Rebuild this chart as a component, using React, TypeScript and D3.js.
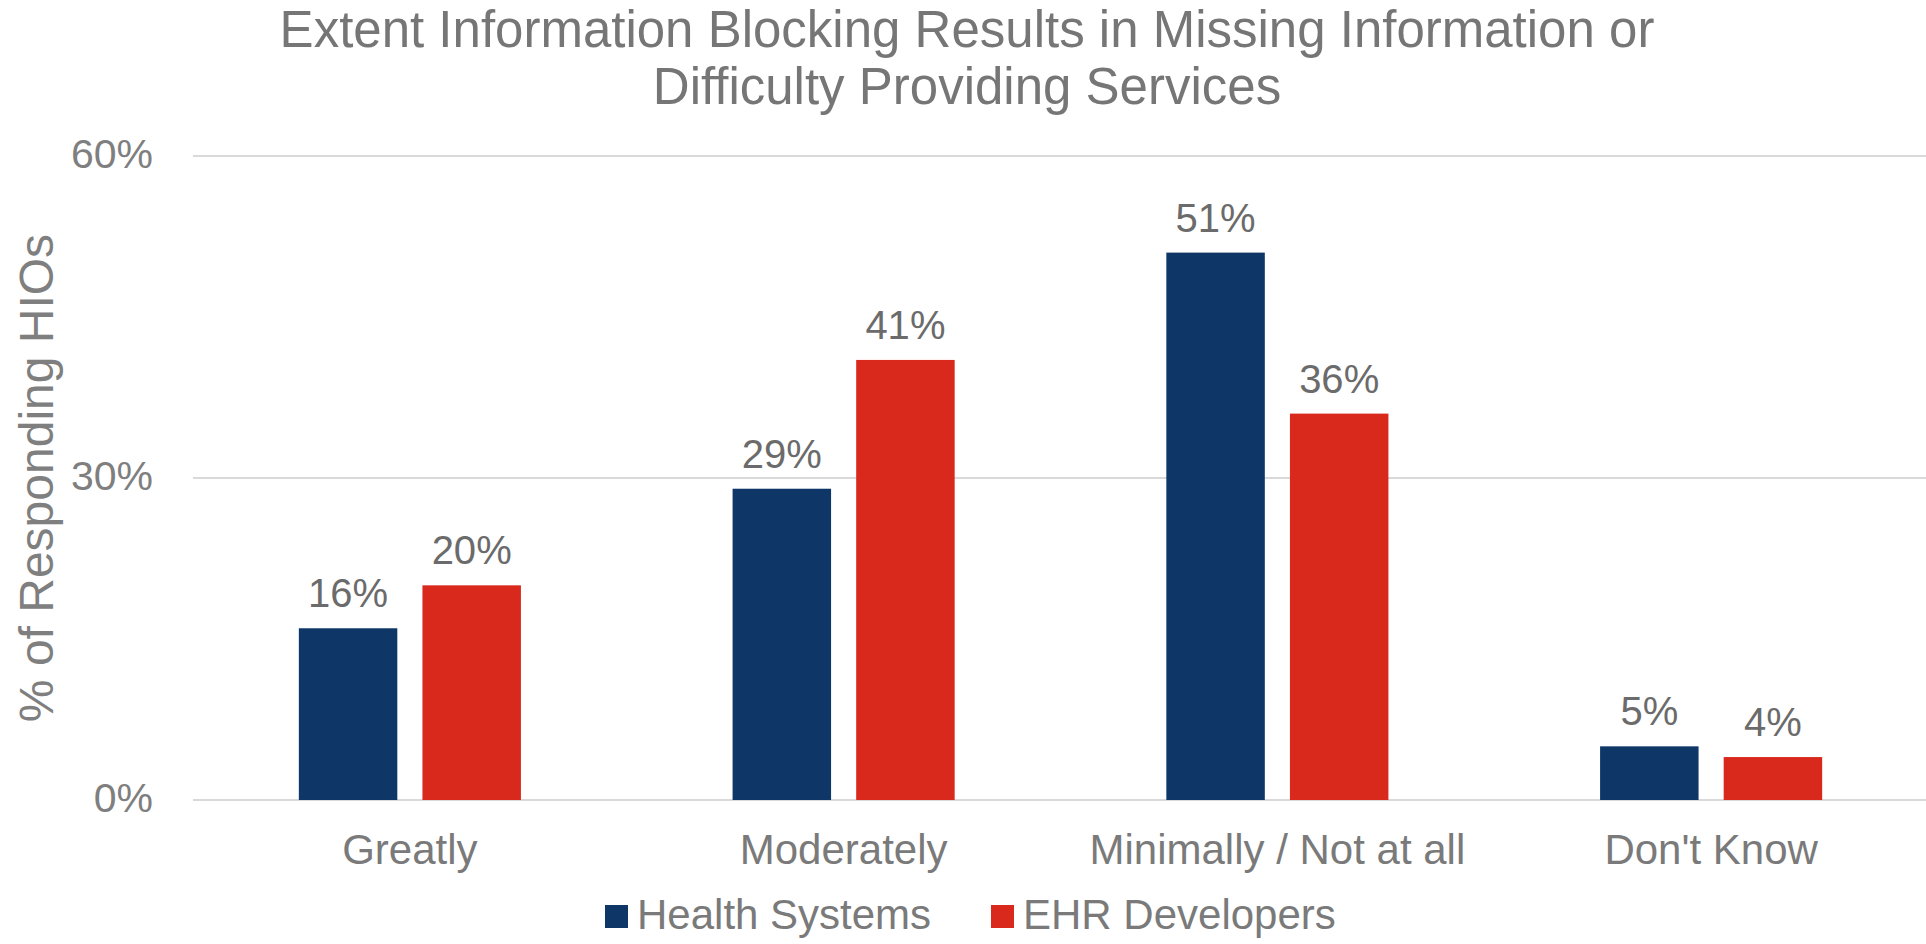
import React from "react";
import * as d3 from "d3";

const categories = ["Greatly", "Moderately", "Minimally / Not at all", "Don't Know"];
const seriesNames = ["Health Systems", "EHR Developers"];
const healthSystems = [16, 29, 51, 5];
const ehrDevelopers = [20, 41, 36, 4];
const seriesColors = ["#0E3768", "#D9281C"];
const yTicks = [0, 30, 60];
const titleLines = [
  "Extent Information Blocking Results in Missing Information or",
  "Difficulty Providing Services",
];
const yAxisTitle = "% of Responding HIOs";

const W = 1926;
const H = 944;
const FONT = "'Liberation Sans', Arial, sans-serif";

export default function App() {
  const x = d3.scaleBand<string>().domain(categories).range([193, 1928]).paddingInner(0.488).paddingOuter(0.244);
  const xs = d3.scaleBand<string>().domain(seriesNames).range([0, x.bandwidth()]).paddingInner(0.2033).paddingOuter(0);
  const y = d3.scaleLinear().domain([0, 60]).range([800, 156]);
  const seriesValues = [healthSystems, ehrDevelopers];

  return (
    <svg width={W} height={H} style={{ position: "absolute", left: 0, top: 0, background: "#fff" }} fontFamily={FONT}>
      <rect x={0} y={0} width={W} height={H} fill="#fff" />
      {titleLines.map((t, i) => (
        <text key={i} x={967} y={47 + i * 57} textAnchor="middle" fontSize={51} fill="#767676">{t}</text>
      ))}
      {yTicks.map((t) => (
        <g key={t}>
          <line x1={193} x2={W} y1={y(t)} y2={y(t)} stroke="#D9D9D9" strokeWidth={2} />
          <text x={153} y={y(t)} dy="0.3em" textAnchor="end" fontSize={41} fill="#7F7F7F">{t}%</text>
        </g>
      ))}
      <text transform={`translate(53, 478) rotate(-90)`} textAnchor="middle" fontSize={48} fill="#7F7F7F">{yAxisTitle}</text>
      {categories.map((c, ci) => (
        <g key={c}>
          {seriesNames.map((s, si) => {
            const v = seriesValues[si][ci];
            const bx = (x(c) as number) + (xs(s) as number);
            const bw = xs.bandwidth();
            return (
              <g key={s}>
                <rect x={bx} y={y(v)} width={bw} height={y(0) - y(v)} fill={seriesColors[si]} />
                <text x={bx + bw / 2} y={y(v) - 21} textAnchor="middle" fontSize={40} fill="#6B6B6B">{v}%</text>
              </g>
            );
          })}
          <text x={(x(c) as number) + x.bandwidth() / 2} y={864} textAnchor="middle" fontSize={42} fill="#7A7A7A">{c}</text>
        </g>
      ))}
      {seriesNames.map((s, si) => {
        const lx = [605, 991][si];
        return (
          <g key={s}>
            <rect x={lx} y={905} width={23} height={23} fill={seriesColors[si]} />
            <text x={lx + 32} y={929} fontSize={42} fill="#7A7A7A">{s}</text>
          </g>
        );
      })}
    </svg>
  );
}
